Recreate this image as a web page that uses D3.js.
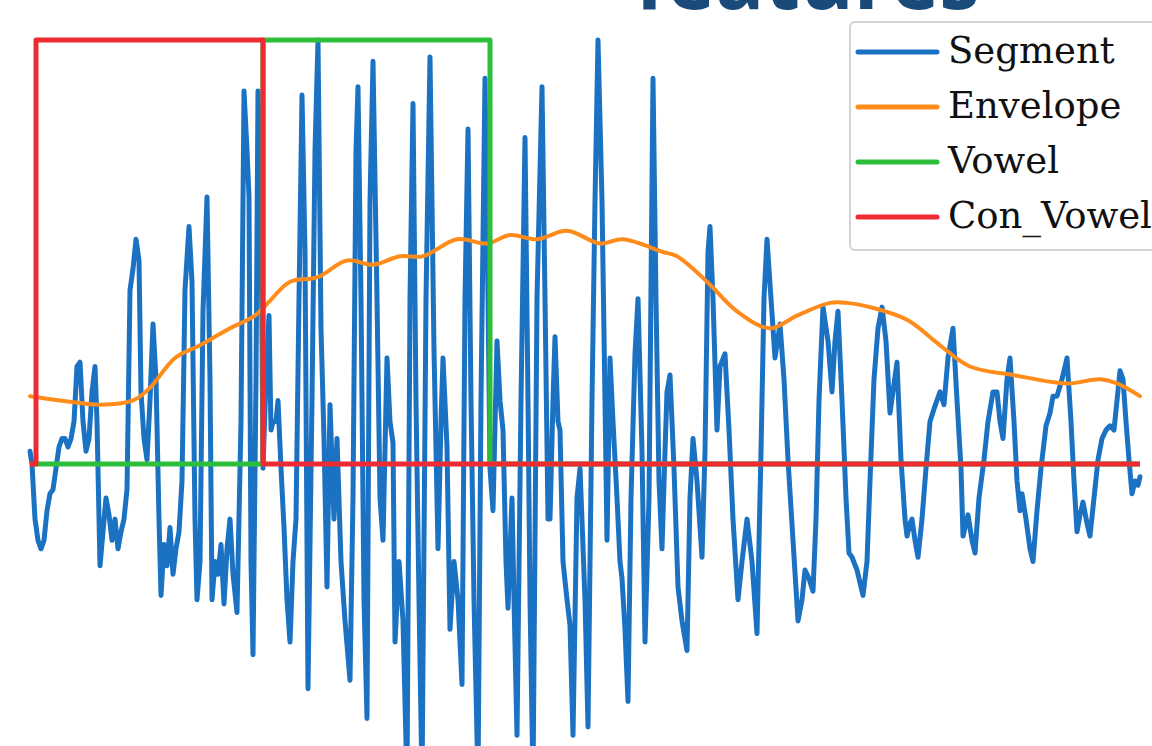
<!DOCTYPE html>
<html>
<head>
<meta charset="utf-8">
<script src="https://cdn.jsdelivr.net/npm/d3@7"></script>
<style>
  html, body { margin: 0; padding: 0; background: #fff; overflow: hidden; }
  svg { display: block; }
</style>
</head>
<body>
<div id="chart"></div>
<script>
// samples (index) and amplitude
var segment = [
  [0,0.03],[2,0.00],[5,-0.13],[8,-0.18],[11,-0.20],[14,-0.18],[17,-0.11],[20,-0.07],[23,-0.06],[26,-0.01],
  [29,0.04],[32,0.06],[35,0.06],[38,0.04],[41,0.06],[44,0.10],[47,0.23],[50,0.24],[53,0.10],[56,0.03],
  [59,0.06],[62,0.17],[65,0.23],[67,0.10],[70,-0.24],[73,-0.16],[76,-0.08],[79,-0.12],[82,-0.18],[85,-0.13],
  [88,-0.20],[91,-0.16],[94,-0.13],[97,-0.06],[100,0.41],[103,0.46],[106,0.53],[109,0.48],[111,0.17],[114,0.06],
  [117,0.01],[120,0.15],[123,0.33],[126,0.20],[129,-0.13],[131,-0.31],[134,-0.19],[137,-0.24],[140,-0.15],[143,-0.26],
  [146,-0.20],[149,-0.16],[152,-0.04],[155,0.41],[159,0.56],[162,0.43],[165,-0.13],[167,-0.32],[170,-0.23],[173,0.36],
  [177,0.63],[180,0.20],[182,-0.32],[185,-0.23],[188,-0.26],[191,-0.19],[194,-0.33],[197,-0.20],[200,-0.13],[203,-0.26],
  [207,-0.35],[211,0.10],[214,0.88],[217,0.74],[219,0.63],[221,-0.23],[223,-0.45],[226,0.20],[228,0.88],[231,0.60],
  [233,-0.01],[236,0.20],[239,0.35],[241,0.08],[243,0.10],[246,0.10],[248,0.15],[251,-0.01],[254,-0.15],[257,-0.32],
  [260,-0.42],[263,-0.23],[266,-0.13],[269,0.39],[272,0.87],[275,0.50],[278,-0.53],[282,0.15],[285,0.74],[288,1.00],
  [291,0.32],[294,0.06],[297,-0.29],[300,0.14],[304,-0.13],[307,0.06],[311,-0.23],[315,-0.37],[320,-0.51],[323,-0.08],
  [326,0.74],[328,0.89],[331,0.39],[334,-0.32],[337,-0.60],[340,0.62],[343,0.95],[347,0.39],[350,-0.08],[353,-0.18],
  [357,0.25],[360,0.10],[363,0.05],[365,-0.42],[369,-0.23],[373,-0.37],[377,-0.75],[380,0.39],[383,0.85],[386,0.15],
  [389,-0.32],[392,-0.75],[396,0.39],[400,0.96],[404,0.27],[408,-0.20],[411,0.10],[413,0.25],[417,0.04],[420,-0.39],
  [424,-0.23],[428,-0.32],[432,-0.52],[435,0.39],[438,0.79],[441,0.15],[444,-0.32],[448,-0.75],[451,0.15],[455,0.91],
  [458,0.39],[460,-0.01],[463,-0.11],[467,0.29],[470,0.15],[473,0.08],[476,-0.23],[478,-0.34],[482,-0.08],[484,-0.32],
  [487,-0.64],[491,0.15],[495,0.77],[498,0.15],[500,-0.32],[503,-0.75],[507,0.39],[512,0.89],[515,0.39],[518,-0.13],
  [520,-0.13],[523,0.15],[525,0.30],[528,0.10],[530,0.08],[533,-0.23],[537,-0.32],[540,-0.38],[543,-0.64],[547,-0.08],
  [550,-0.01],[555,-0.32],[558,-0.62],[562,0.15],[565,0.62],[568,1.00],[572,0.62],[575,0.15],[577,-0.18],[580,0.25],
  [583,0.10],[587,-0.08],[590,-0.23],[592,-0.27],[595,-0.39],[598,-0.56],[601,-0.08],[605,0.26],[608,0.39],[612,0.03],
  [615,-0.42],[619,-0.08],[623,0.91],[626,0.39],[629,-0.04],[632,-0.20],[635,0.03],[637,0.17],[640,0.21],[644,-0.01],
  [648,-0.29],[652,-0.37],[657,-0.44],[660,-0.08],[663,0.06],[667,-0.04],[672,-0.22],[675,0.03],[678,0.50],[680,0.56],
  [683,0.39],[687,0.08],[690,0.23],[695,0.26],[699,0.08],[703,-0.13],[708,-0.32],[712,-0.23],[717,-0.13],[722,-0.23],
  [727,-0.40],[731,0.03],[734,0.39],[737,0.53],[741,0.39],[745,0.25],[750,0.33],[754,0.20],[758,0.01],[763,-0.18],
  [768,-0.37],[772,-0.32],[775,-0.25],[779,-0.27],[783,-0.30],[786,-0.13],[789,0.15],[793,0.37],[798,0.29],[802,0.17],
  [805,0.29],[808,0.36],[812,0.15],[816,-0.08],[819,-0.21],[822,-0.22],[827,-0.25],[833,-0.31],[837,-0.23],[840,-0.04],
  [844,0.20],[848,0.32],[852,0.37],[856,0.29],[860,0.12],[867,0.24],[871,0.01],[875,-0.13],[877,-0.17],[880,-0.14],
  [882,-0.13],[885,-0.18],[888,-0.22],[892,-0.13],[896,-0.01],[900,0.10],[904,0.13],[910,0.17],[914,0.14],[918,0.25],
  [923,0.32],[927,0.15],[931,-0.01],[933,-0.17],[936,-0.14],[938,-0.12],[942,-0.18],[945,-0.21],[949,-0.08],[954,0.01],
  [958,0.10],[963,0.17],[967,0.17],[970,0.10],[973,0.06],[977,0.20],[980,0.25],[984,0.10],[987,-0.04],[990,-0.11],
  [992,-0.07],[996,-0.13],[1000,-0.20],[1003,-0.23],[1007,-0.11],[1011,-0.01],[1016,0.09],[1020,0.12],[1023,0.16],[1027,0.16],
  [1032,0.20],[1037,0.25],[1041,0.10],[1044,-0.04],[1047,-0.16],[1050,-0.12],[1053,-0.09],[1057,-0.14],[1060,-0.17],[1064,-0.08],
  [1068,0.01],[1072,0.06],[1076,0.08],[1080,0.09],[1084,0.08],[1087,0.15],[1090,0.22],[1093,0.20],[1096,0.10],[1099,0.01],
  [1102,-0.07],[1105,-0.04],[1108,-0.05],[1110,-0.03]
];

var envelope = [
  [0,0.16],[30,0.15],[70,0.14],[103,0.15],[120,0.18],[145,0.25],[170,0.28],[200,0.32],[225,0.35],[238,0.38],
  [260,0.43],[287,0.44],[317,0.48],[343,0.47],[370,0.49],[393,0.49],[427,0.53],[457,0.52],[480,0.54],[507,0.53],
  [537,0.55],[570,0.52],[593,0.53],[633,0.50],[647,0.49],[677,0.43],[707,0.36],[740,0.32],[767,0.35],[800,0.38],
  [817,0.38],[840,0.37],[877,0.34],[910,0.28],[940,0.23],[983,0.21],[1037,0.19],[1070,0.20],[1087,0.19],[1110,0.16]
];

// 0/1 indicator steps
var vowel = [[0,0],[233,1],[460,0],[1110,0]];
var conVowel = [[0,0],[6,1],[233,0],[1110,0]];

var labels = ['Segment', 'Envelope', 'Vowel', 'Con_Vowel'];
var colors = ['#1b72c2', '#ff8c1a', '#2dbf3c', '#ee2a33'];

!function() {
    var W = 1152, H = 746;
    var svg = d3.select('#chart').append('svg')
        .attr('width', W)
        .attr('height', H);

    var fx = d3.scaleLinear().domain([0, 1110]).range([30, 1140]);
    var fy = d3.scaleLinear().domain([0, 1]).range([464, 40]);

    // slide title, cut off by the top edge as in the screenshot
    svg.append('text')
        .text('features')
        .attr('x', 635)
        .attr('y', 9)
        .attr('textLength', 345)
        .attr('lengthAdjust', 'spacingAndGlyphs')
        .style('font-family', '"Open Sans", sans-serif')
        .style('font-weight', 700)
        .style('font-size', '88px')
        .style('fill', '#1a4a7a');

    var line = d3.line()
        .x(function(d) { return fx(d[0]); })
        .y(function(d) { return fy(d[1]); });

    svg.append('path')
        .datum(segment)
        .attr('d', line)
        .attr('fill', 'none')
        .attr('stroke', colors[0])
        .attr('stroke-width', 5)
        .attr('stroke-linejoin', 'round')
        .attr('stroke-linecap', 'round');

    svg.append('path')
        .datum(envelope)
        .attr('d', line.curve(d3.curveCatmullRom.alpha(0.5)))
        .attr('fill', 'none')
        .attr('stroke', colors[1])
        .attr('stroke-width', 4)
        .attr('stroke-linecap', 'round');

    line.curve(d3.curveStepAfter);
    [vowel, conVowel].forEach(function(s, i) {
        svg.append('path')
            .datum(s)
            .attr('d', line)
            .attr('fill', 'none')
            .attr('stroke', colors[2 + i])
            .attr('stroke-width', 5)
            .attr('stroke-linejoin', 'round');
    });

    // legend
    var lg = svg.append('g').attr('transform', 'translate(850,22)');
    lg.append('rect')
        .attr('width', 330)
        .attr('height', 228)
        .attr('rx', 5)
        .attr('fill', 'rgba(255,255,255,0.85)')
        .attr('stroke', '#d4d4d4')
        .attr('stroke-width', 2);

    var row = lg.selectAll('g.row')
        .data(labels).enter()
        .append('g')
          .attr('class', 'row')
          .attr('transform', function(d, i) { return 'translate(0,' + (30 + i * 55) + ')'; });

    row.append('line')
        .attr('x1', 8).attr('x2', 87)
        .attr('stroke', function(d, i) { return colors[i]; })
        .attr('stroke-width', 5)
        .attr('stroke-linecap', 'round');

    row.append('text')
        .text(function(d) { return d; })
        .attr('x', 98)
        .attr('y', 11)
        .style('font-family', '"DejaVu Serif", serif')
        .style('font-size', '37px')
        .style('fill', '#111');
}();
</script>
</body>
</html>
